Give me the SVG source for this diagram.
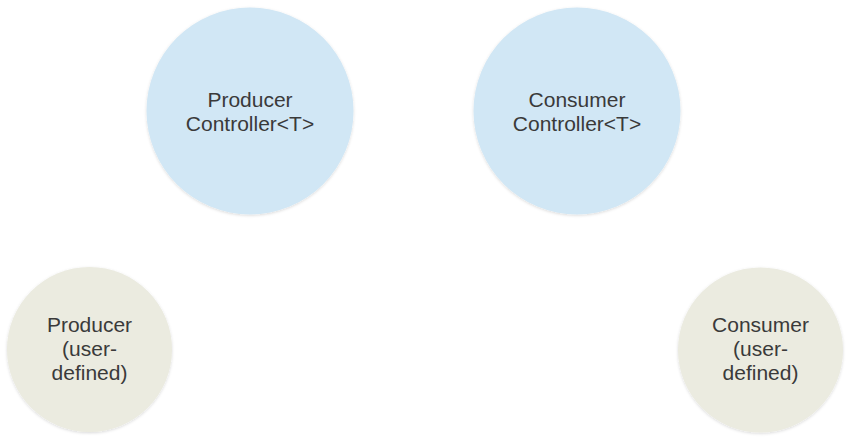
<svg xmlns="http://www.w3.org/2000/svg" width="853" height="445" viewBox="0 0 853 445">
<style>
.ctl{fill:#d1e7f5;}
.usr{fill:#ebebe0;}
.lbl{font-family:"Liberation Sans",Arial,sans-serif;font-size:21px;fill:#3a3a3a;text-anchor:middle;}
</style>
<defs>
<filter id="sh" x="-10%" y="-10%" width="120%" height="120%">
<feDropShadow dx="0" dy="1" stdDeviation="1.5" flood-color="#000" flood-opacity="0.15"/>
</filter>
</defs>
<rect width="853" height="445" fill="#ffffff"/>
<g id="connectors"></g>
<g id="producer-controller">
<circle class="ctl" cx="250" cy="111" r="103.5" filter="url(#sh)"/>
<text class="lbl" x="250" y="107">Producer</text>
<text class="lbl" x="250" y="131">Controller&lt;T&gt;</text>
</g>
<g id="consumer-controller">
<circle class="ctl" cx="577" cy="111" r="103.5" filter="url(#sh)"/>
<text class="lbl" x="577" y="107">Consumer</text>
<text class="lbl" x="577" y="131">Controller&lt;T&gt;</text>
</g>
<g id="producer">
<circle class="usr" cx="89.5" cy="349.5" r="82.5" filter="url(#sh)"/>
<text class="lbl" x="89.5" y="332">Producer</text>
<text class="lbl" x="89.5" y="356">(user-</text>
<text class="lbl" x="89.5" y="380">defined)</text>
</g>
<g id="consumer">
<circle class="usr" cx="760.5" cy="350" r="82.5" filter="url(#sh)"/>
<text class="lbl" x="760.5" y="332">Consumer</text>
<text class="lbl" x="760.5" y="356">(user-</text>
<text class="lbl" x="760.5" y="380">defined)</text>
</g>
</svg>
